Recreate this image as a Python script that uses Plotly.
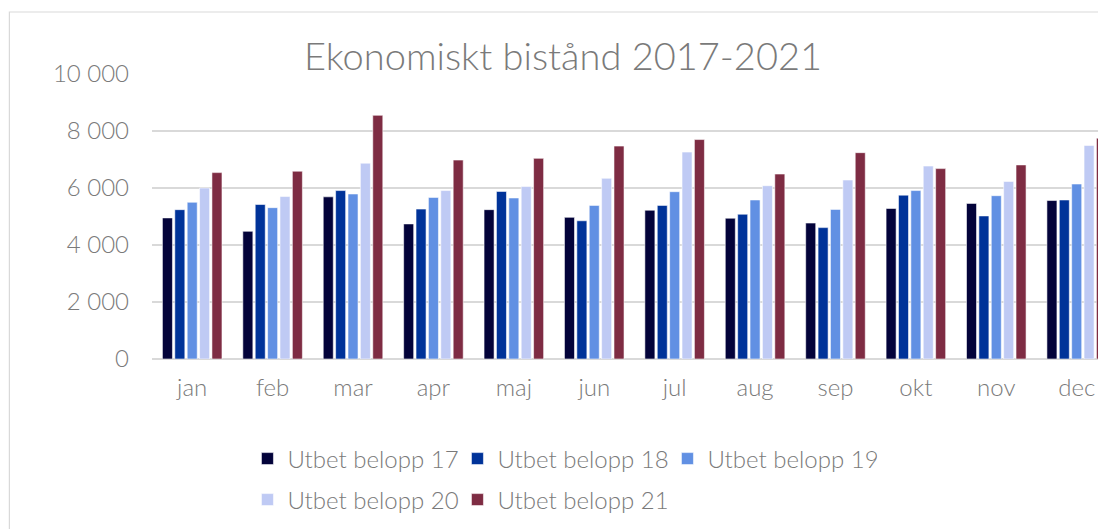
import plotly.graph_objects as go

months = ["jan", "feb", "mar", "apr", "maj", "jun", "jul", "aug", "sep", "okt", "nov", "dec"]
series_names = ["Utbet belopp 17", "Utbet belopp 18", "Utbet belopp 19", "Utbet belopp 20", "Utbet belopp 21"]
v17 = [4950, 4480, 5690, 4740, 5240, 4970, 5220, 4940, 4770, 5280, 5460, 5560]
v18 = [5240, 5420, 5910, 5260, 5880, 4850, 5390, 5080, 4610, 5750, 5020, 5580]
v19 = [5500, 5310, 5790, 5670, 5650, 5390, 5870, 5580, 5250, 5910, 5730, 6140]
v20 = [6000, 5700, 6870, 5910, 6050, 6340, 7260, 6080, 6280, 6770, 6230, 7490]
v21 = [6540, 6590, 8550, 6980, 7040, 7470, 7700, 6490, 7240, 6680, 6810, 7750]
colors = ["#03033a", "#003399", "#6190e3", "#bfcaf4", "#7e2c43"]
title_text = "Ekonomiskt bistånd 2017-2021"

FONT = "Lato"
GREY = "#7a7a7a"

fig = go.Figure()
for i, (name, vals, col) in enumerate(zip(series_names, [v17, v18, v19, v20, v21], colors)):
    fig.add_trace(go.Bar(
        x=months, y=vals, name=name,
        marker=dict(color=col, line=dict(color="rgba(255,255,255,0.7)", width=0.8)),
        legend="legend" if i < 3 else "legend2",
    ))

# figure coordinates (page has an 8px body margin)
W, H = 1098, 521
L, T = 143.5, 66
plot_bottom = 351
B = H - plot_bottom
plot_w = W - L
plot_h = plot_bottom - T
step = 80.45
overflow = (L + 12 * step - W) / step

tick_font = dict(family=FONT, size=24, color=GREY, weight=300)
leg_font = dict(family=FONT, size=24, color=GREY, weight=300)

fig.update_layout(
    width=W, height=H,
    margin=dict(l=L, r=0, t=T, b=B, pad=0),
    paper_bgcolor="white", plot_bgcolor="white",
    barmode="group", bargap=0.23, bargroupgap=0.19,
    separators=", ",
    font=dict(family=FONT, color=GREY, size=20),
    title=dict(text=title_text, x=555 / W, xanchor="center", xref="container",
               y=1 - 49 / H, yanchor="middle", yref="container",
               font=dict(family=FONT, size=38, color=GREY, weight=300)),
    xaxis=dict(range=[-0.5, 11.5 - overflow], showgrid=False,
               showline=False, zeroline=False, ticks="", ticklabelstandoff=12,
               tickfont=tick_font),
    yaxis=dict(range=[0, 10000], dtick=2000, tickformat=",d", showgrid=True,
               gridcolor="#d9d9d9", gridwidth=1.5, zeroline=True, zerolinecolor="#d9d9d9",
               zerolinewidth=1.5, showline=False, ticks="", ticklabelstandoff=22,
               tickfont=tick_font),
    legend=dict(orientation="h", x=(239 - L) / plot_w, xanchor="left",
                y=(plot_bottom - 451) / plot_h, yanchor="middle", entrywidth=165,
                font=leg_font, bgcolor="rgba(0,0,0,0)"),
    legend2=dict(orientation="h", x=(239 - L) / plot_w, xanchor="left",
                 y=(plot_bottom - 492) / plot_h, yanchor="middle", entrywidth=165,
                 font=leg_font, bgcolor="rgba(0,0,0,0)"),
    shapes=[dict(type="rect", xref="paper", yref="paper",
                 x0=(0.8 - L) / plot_w, x1=1.02, y0=(plot_bottom - 560) / plot_h,
                 y1=(plot_bottom - 4) / plot_h,
                 line=dict(color="#d9d9d9", width=1.2), fillcolor="rgba(0,0,0,0)", layer="below")],
)

fig.write_html("out.html")
